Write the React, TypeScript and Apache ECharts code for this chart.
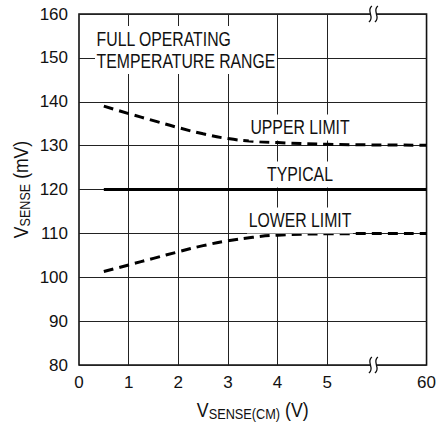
import React, { useEffect, useRef } from "react";
import * as echarts from "echarts";

const FONT = '"Liberation Sans", Arial, sans-serif';

const xTicks = [0, 1, 2, 3, 4, 5, 6, 7];
const xTickLabels = ["0", "1", "2", "3", "4", "5", "", "60"];
const gridXs = [1, 2, 3, 4, 5];

const xUpper = [0.5, 1, 1.5, 2, 2.5, 3, 3.5, 4, 5, 7];
const upperLimit = [139, 137.3, 135.7, 134.1, 132.7, 131.6, 131.0, 130.7, 130.3, 130.1];

const xLower = [0.5, 1, 1.5, 2, 2.5, 3, 3.5, 4, 5, 7];
const lowerLimit = [101.3, 102.8, 104.3, 105.8, 107.2, 108.3, 109.1, 109.6, 109.9, 110.0];

const xTypical = [0.5, 7];
const typical = [120, 120];

const breakX = 5.93;

let measureCtx: CanvasRenderingContext2D | null = null;
function measure(text: string, size: number): number {
  if (!measureCtx) measureCtx = document.createElement("canvas").getContext("2d");
  if (!measureCtx) return text.length * size * 0.5;
  measureCtx.font = `${size}px ${FONT}`;
  return measureCtx.measureText(text).width;
}

type Piece = { t: string; size: number; dy: number };

function titleGroup(pieces: Piece[], cx: number, baseY: number, rotation: number, id: string, sx: number) {
  const total = pieces.reduce((s, p) => s + measure(p.t, p.size), 0);
  let x = -total / 2;
  const children: any[] = [];
  pieces.forEach((p) => {
    children.push({
      type: "text",
      x,
      y: p.dy,
      style: {
        text: p.t,
        fontSize: p.size,
        fontFamily: FONT,
        fill: "#111",
        textAlign: "left",
        textVerticalAlign: "bottom",
        verticalAlign: "bottom",
      },
    });
    x += measure(p.t, p.size);
  });
  return { type: "group", id, x: cx, y: baseY, rotation, scaleX: sx, children, z: 100 };
}

function breakMark(cx: number, cy: number, id: string) {
  const h = 8;
  const curve = (ox: number) => ({
    type: "bezierCurve",
    shape: {
      x1: ox + 1.5,
      y1: cy - h,
      cpx1: ox - 5,
      cpy1: cy - 3,
      cpx2: ox + 5,
      cpy2: cy + 3,
      x2: ox - 1.5,
      y2: cy + h,
    },
    style: { stroke: "#111", lineWidth: 1.3, fill: null },
    z: 102,
  });
  return {
    type: "group",
    id,
    children: [
      { type: "rect", shape: { x: cx - 3, y: cy - 3, width: 6, height: 6 }, style: { fill: "#fff" }, z: 101 },
      curve(cx - 3),
      curve(cx + 3),
    ],
    z: 100,
  };
}

export default function App() {
  const ref = useRef<HTMLDivElement>(null);

  useEffect(() => {
    document.body.style.margin = "0";
    if (!ref.current) return;
    const chart = echarts.init(ref.current, undefined, { renderer: "svg" });

    const labelStyle = { fontFamily: FONT, fontSize: 17, color: "#111" };

    chart.setOption({
      animation: false,
      backgroundColor: "#fff",
      grid: {
        left: 79,
        right: 9,
        top: 14,
        bottom: 58,
        show: true,
        borderColor: "#111",
        borderWidth: 1.6,
        backgroundColor: "transparent",
      },
      xAxis: {
        type: "value",
        min: 0,
        max: 7,
        interval: 1,
        axisLine: { show: false },
        axisTick: { show: false },
        splitLine: { show: false },
        axisLabel: {
          ...labelStyle,
          margin: 9,
          showMinLabel: true,
          showMaxLabel: true,
          formatter: (v: number) => {
            const i = xTicks.indexOf(Math.round(v));
            return i >= 0 ? xTickLabels[i] : "";
          },
        },
      },
      yAxis: {
        type: "value",
        min: 80,
        max: 160,
        interval: 10,
        axisLine: { show: false },
        axisTick: { show: false },
        splitLine: { show: true, lineStyle: { color: "#222", width: 1 } },
        axisLabel: { ...labelStyle, margin: 11 },
      },
      series: [
        {
          type: "line",
          data: [],
          silent: true,
          markLine: {
            silent: true,
            symbol: "none",
            label: { show: false },
            lineStyle: { color: "#222", width: 1, type: "solid" },
            data: gridXs.map((x) => ({ xAxis: x })),
          },
        },
        {
          type: "line",
          data: xUpper.map((x, i) => [x, upperLimit[i]]),
          smooth: true,
          showSymbol: false,
          lineStyle: { color: "#000", width: 3, type: [10, 6] },
          z: 5,
        },
        {
          type: "line",
          data: xLower.map((x, i) => [x, lowerLimit[i]]),
          smooth: true,
          showSymbol: false,
          lineStyle: { color: "#000", width: 3, type: [10, 6] },
          z: 5,
        },
        {
          type: "line",
          data: xTypical.map((x, i) => [x, typical[i]]),
          showSymbol: false,
          lineStyle: { color: "#000", width: 3, type: "solid" },
          z: 5,
        },
      ],
    });

    const p0 = chart.convertToPixel({ gridIndex: 0 }, [breakX, 160]) as number[];
    const p1 = chart.convertToPixel({ gridIndex: 0 }, [breakX, 80]) as number[];
    const plotLeft = chart.convertToPixel({ gridIndex: 0 }, [0, 80]) as number[];
    const plotRight = chart.convertToPixel({ gridIndex: 0 }, [7, 160]) as number[];
    const cx = (plotLeft[0] + plotRight[0]) / 2;
    const cy = (plotLeft[1] + plotRight[1]) / 2;

    const ann = (id: string, text: string, x: number, y: number, align: string) => ({
      type: "text",
      id,
      x,
      y,
      z: 100,
      scaleX: 0.79,
      style: {
        text,
        fontSize: 20,
        fontFamily: FONT,
        fill: "#111",
        textAlign: align,
        textVerticalAlign: "middle",
        verticalAlign: "middle",
        lineHeight: 22,
        backgroundColor: "#fff",
        padding: [2, 2, 2, 2],
      },
    });

    chart.setOption({
      graphic: [
        ann("full", "FULL OPERATING\nTEMPERATURE RANGE", 95, 50, "left"),
        ann("upper", "UPPER LIMIT", 300, 127.5, "center"),
        ann("typ", "TYPICAL", 300, 174.5, "center"),
        ann("lower", "LOWER LIMIT", 300, 220.5, "center"),
        breakMark(p0[0], p0[1], "bk1"),
        breakMark(p1[0], p1[1], "bk2"),
        titleGroup(
          [
            { t: "V", size: 19.5, dy: 0 },
            { t: "SENSE(CM)", size: 14, dy: 1.5 },
            { t: " (V)", size: 19.5, dy: 0 },
          ],
          cx,
          420,
          0,
          "xt",
          0.91
        ),
        titleGroup(
          [
            { t: "V", size: 19.5, dy: 0 },
            { t: "SENSE", size: 14, dy: 1 },
            { t: " (mV)", size: 19.5, dy: 0 },
          ],
          31,
          cy,
          Math.PI / 2,
          "yt",
          0.9
        ),
      ],
    });

    return () => chart.dispose();
  }, []);

  return <div ref={ref} style={{ width: 439, height: 423 }} />;
}
